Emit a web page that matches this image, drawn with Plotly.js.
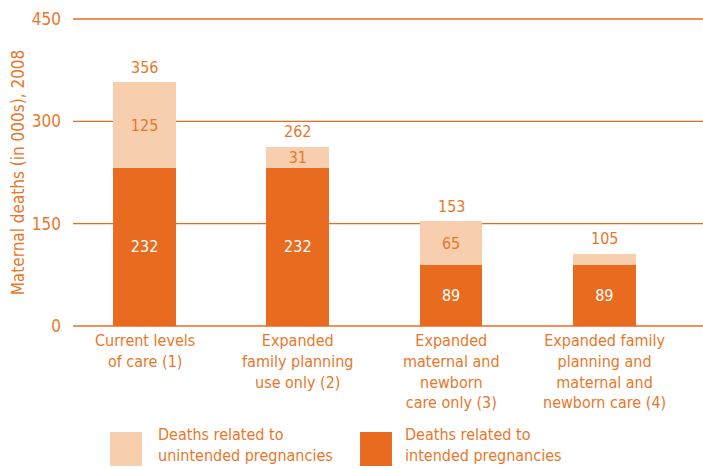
<!DOCTYPE html>
<html><head><meta charset="utf-8">
<script src="https://cdn.plot.ly/plotly-3.0.1.min.js"></script>
<style>html,body{margin:0;padding:0;background:#fff}#chart{width:703px;height:469px}</style>
</head><body><div id="chart"></div>
<script>
const categories = ["Current levels<br>of care (1)", "Expanded<br>family planning<br>use only (2)", "Expanded<br>maternal and<br>newborn<br>care only (3)", "Expanded family<br>planning and<br>maternal and<br>newborn care (4)"];
const intended = [232, 232, 89, 89];
const unintended = [125, 31, 65, 16];
const unintendedLabels = ["125", "31", "65", ""];
const totals = [356, 262, 153, 105];
const seriesNames = ["Deaths related to<br>unintended pregnancies", "Deaths related to<br>intended pregnancies"];
const yTicks = [0, 150, 300, 450];

const DARK = "#E96B20", LIGHT = "#F8CFAE", TXT = "#E8772A";
const FONT = "'Liberation Sans Narrow', 'DejaVu Sans Condensed', 'DejaVu Sans', sans-serif";
const xs = categories.map((_, i) => i);

const traces = [
  {type: "bar", x: xs, y: intended, name: seriesNames[1], marker: {color: DARK},
   width: 0.41, text: intended.map(String), textposition: "inside", insidetextanchor: "middle",
   textangle: 0, constraintext: "none",
   textfont: {color: "#ffffff", size: 16, family: FONT}, hoverinfo: "none", showlegend: false},
  {type: "bar", x: xs, y: unintended, name: seriesNames[0], marker: {color: LIGHT},
   width: 0.41, text: unintendedLabels, textposition: "inside", insidetextanchor: "middle",
   textangle: 0, constraintext: "none",
   textfont: {color: TXT, size: 16, family: FONT}, hoverinfo: "none", showlegend: false}
];

const annotations = categories.map((c, i) => ({
  x: i, y: 0, xref: "x", yref: "y", yanchor: "top", yshift: -3, text: c, showarrow: false,
  font: {color: TXT, size: 16, family: FONT}, align: "center"
}));
totals.forEach((t, i) => annotations.push({
  x: i, y: t, xref: "x", yref: "y", yanchor: "bottom", yshift: 4, text: String(t), showarrow: false,
  font: {color: TXT, size: 16, family: FONT}
}));
annotations.push(
  {xref: "paper", yref: "paper", x: 0.1317, y: -0.382, xanchor: "left", yanchor: "middle",
   text: seriesNames[0], showarrow: false, align: "left", font: {color: TXT, size: 16, family: FONT}},
  {xref: "paper", yref: "paper", x: 0.5238, y: -0.382, xanchor: "left", yanchor: "middle",
   text: seriesNames[1], showarrow: false, align: "left", font: {color: TXT, size: 16, family: FONT}}
);
const shapes = yTicks.map(v => ({
  type: "line", xref: "paper", yref: "y", x0: 0, x1: 1, y0: v, y1: v, layer: "below",
  line: {color: DARK, width: 1.3}
}));
shapes.push(
  {type: "rect", xref: "paper", yref: "paper", x0: 0.0587, x1: 0.1095, y0: -0.340, y1: -0.450,
   fillcolor: LIGHT, line: {width: 0}},
  {type: "rect", xref: "paper", yref: "paper", x0: 0.4556, x1: 0.5063, y0: -0.340, y1: -0.450,
   fillcolor: DARK, line: {width: 0}}
);

const layout = {
  width: 703, height: 469,
  margin: {l: 73, r: 0, t: 18, b: 142},
  paper_bgcolor: "#fff", plot_bgcolor: "#fff",
  barmode: "stack", showlegend: false,
  font: {family: FONT, color: TXT},
  xaxis: {range: [-0.467, 3.644], showticklabels: false, showgrid: false, zeroline: false,
          showline: false, ticks: "", fixedrange: true},
  yaxis: {range: [-1.5, 451.5], tickvals: yTicks, ticktext: yTicks.map(String),
          showgrid: false, zeroline: false,
          showline: false, ticks: "", ticklabelstandoff: 11,
          tickfont: {color: TXT, size: 17, family: FONT},
          title: {text: "Maternal deaths (in 000s), 2008", font: {color: TXT, size: 17, family: FONT}, standoff: 2}},
  annotations: annotations, shapes: shapes
};
Plotly.newPlot("chart", traces, layout, {staticPlot: true, displayModeBar: false});
</script></body></html>
